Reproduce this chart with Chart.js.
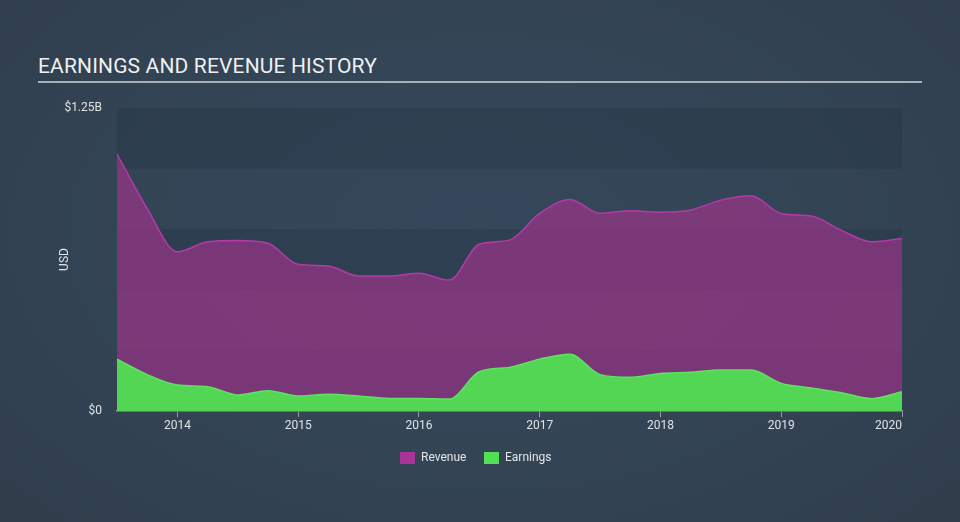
<!DOCTYPE html>
<html>
<head>
<meta charset="utf-8">
<script src="https://cdn.jsdelivr.net/npm/chart.js@4/dist/chart.umd.min.js"></script>
<style>
  html, body { margin:0; padding:0; }
  body {
    width:960px; height:522px; overflow:hidden; position:relative;
    background: radial-gradient(ellipse 70% 80% at 50% 45%, #35475a 0%, #334455 55%, #303d4b 100%);
    font-family: Roboto, "Open Sans", sans-serif;
  }
  #title {
    position:absolute; left:38px; top:54px; font-size:21px; color:#eef0f2;
    white-space:nowrap; letter-spacing:0.15px;
  }
  #rule { position:absolute; left:38px; top:81px; width:884px; height:2px; background:#a7afb7; }
  #wrap { position:absolute; left:0; top:0; width:960px; height:522px; }
  #legend { position:absolute; top:451px; left:400px; height:14px; font-size:12px; color:#e2e5e8; }
  .item { position:absolute; top:0; white-space:nowrap; line-height:13px; }
  .sw { display:inline-block; width:15px; height:12px; vertical-align:top; margin-right:6px; margin-top:1px; }
</style>
</head>
<body>
<div id="title">EARNINGS AND REVENUE HISTORY</div>
<div id="rule"></div>
<div id="wrap"><canvas id="c" width="960" height="522"></canvas></div>
<div id="legend">
  <div class="item" style="left:0px"><span class="sw" style="background:#a8349a"></span>Revenue</div>
  <div class="item" style="left:84px"><span class="sw" style="background:#52e052"></span>Earnings</div>
</div>
<script>
// decimal years (quarterly)
const dates = [2013.5, 2013.75, 2014.0, 2014.25, 2014.5, 2014.75, 2015.0, 2015.25, 2015.5, 2015.75,
               2016.0, 2016.25, 2016.5, 2016.75, 2017.0, 2017.25, 2017.5, 2017.75, 2018.0, 2018.25,
               2018.5, 2018.75, 2019.0, 2019.25, 2019.5, 2019.75, 2020.0];
// USD billions
const revenue = [1.060, 0.835, 0.657, 0.698, 0.703, 0.692, 0.605, 0.598, 0.557, 0.557,
                 0.568, 0.540, 0.688, 0.705, 0.815, 0.873, 0.815, 0.826, 0.820, 0.829,
                 0.870, 0.888, 0.815, 0.804, 0.745, 0.698, 0.712];
const earnings = [0.214, 0.150, 0.107, 0.100, 0.066, 0.084, 0.062, 0.069, 0.062, 0.052,
                  0.052, 0.049, 0.162, 0.180, 0.214, 0.234, 0.150, 0.139, 0.155, 0.160,
                  0.169, 0.169, 0.114, 0.095, 0.075, 0.051, 0.080];
const xStart = 2013.5;
const xTickYears = [2014, 2015, 2016, 2017, 2018, 2019, 2020];
const yTickValues = [0, 1.25];
const yTickLabels = ['$0', '$1.25B'];
const bandEdges = [0, 0.25, 0.5, 0.75, 1.0, 1.25];

const toPts = (vals) => vals.map((v, i) => ({x: dates[i], y: v}));

const bandsPlugin = {
  id: 'bands',
  beforeDatasetsDraw(chart) {
    const {ctx, chartArea} = chart;
    const y = chart.scales.y;
    ctx.save();
    for (let i = 0; i < bandEdges.length - 1; i++) {
      const top = y.getPixelForValue(bandEdges[i + 1]);
      const bot = y.getPixelForValue(bandEdges[i]);
      ctx.fillStyle = (i % 2 === 0) ? 'rgba(10,20,35,0.13)' : 'rgba(255,255,255,0.0)';
      ctx.fillRect(chartArea.left, top, chartArea.right - chartArea.left, bot - top);
    }
    ctx.restore();
  }
};

new Chart(document.getElementById('c'), {
  type: 'line',
  data: {
    datasets: [
      {
        label: 'Revenue', data: toPts(revenue), order: 1,
        borderColor: '#b43aa8', borderWidth: 1.5,
        backgroundColor: 'rgba(150,54,134,0.74)', fill: 'origin',
        pointRadius: 0, cubicInterpolationMode: 'monotone'
      },
      {
        label: 'Earnings', data: toPts(earnings), order: 0,
        borderColor: '#5fe462', borderWidth: 1.5,
        backgroundColor: '#52d654', fill: 'origin',
        pointRadius: 0, cubicInterpolationMode: 'monotone'
      }
    ]
  },
  plugins: [bandsPlugin],
  options: {
    responsive: false, animation: false,
    layout: { padding: { left: 40, right: 58, top: 108, bottom: 0 } },
    plugins: { legend: { display: false }, tooltip: { enabled: false } },
    scales: {
      x: {
        type: 'linear', min: xStart, max: 2020.0,
        afterBuildTicks: (s) => { s.ticks = [xStart].concat(xTickYears).map(v => ({value: v})); },
        afterFit: (s) => { s.height = 111; },
        ticks: { color: '#dfe3e7', font: { family: 'Roboto', size: 12 }, padding: 2, maxRotation: 0,
                 align: 'inner', autoSkip: false,
                 callback: (v) => (v === xStart ? '' : String(v)) },
        grid: { drawOnChartArea: false, drawTicks: true, tickLength: 6, lineWidth: 1,
                color: (c) => (c.tick && c.tick.value === xStart ? 'rgba(0,0,0,0)' : '#8f9ca8') },
        border: { display: true, color: '#93a3ad', width: 1.5 }
      },
      y: {
        type: 'linear', min: 0, max: 1.25,
        afterBuildTicks: (s) => { s.ticks = yTickValues.map(v => ({value: v})); },
        afterFit: (s) => { s.width = 77; },
        ticks: { color: '#dfe3e7', font: { family: 'Roboto', size: 12 }, padding: 15,
                 callback: (v) => yTickLabels[yTickValues.indexOf(v)] },
        grid: { display: false, drawTicks: false },
        border: { display: false },
        title: { display: true, text: 'USD', color: '#dfe3e7', font: { family: 'Roboto', size: 12 },
                 padding: { top: 18, bottom: 0 } }
      }
    }
  }
});
</script>
</body>
</html>
